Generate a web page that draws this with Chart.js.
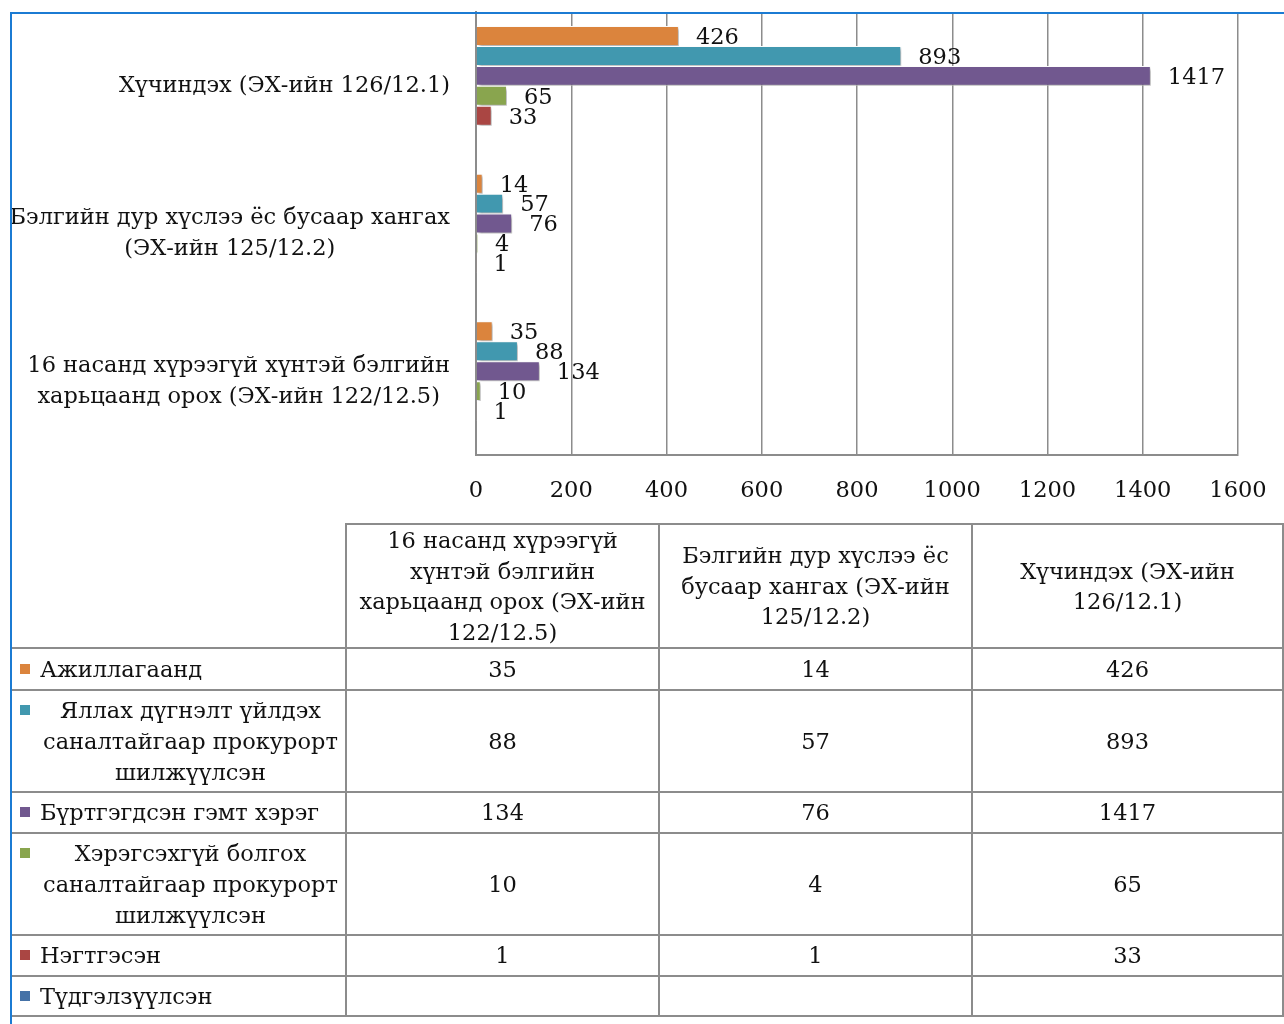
<!DOCTYPE html>
<html>
<head>
<meta charset="utf-8">
<script src="https://cdn.jsdelivr.net/npm/chart.js@4"></script>
<style>
  body { margin: 0; background: #fff; font-family: "DejaVu Serif", serif; color: #111; }
  #wrap { position: relative; width: 1284px; height: 1024px; overflow: hidden; }
  #chart { position: absolute; left: 0; top: 0; }
  #frame { position: absolute; left: 10px; top: 12px; width: 1300px; height: 1100px;
           border-left: 2px solid #1b7bd3; border-top: 2px solid #1b7bd3; }
  table { position: absolute; left: 10px; top: 523px; width: 1272px; table-layout: fixed;
          border-collapse: collapse; font-size: 22.5px; }
  td { border: 2px solid #8c8c8c; text-align: center; line-height: 31px; padding: 0 6px; }
  tr.head td { line-height: 30.5px; }
  td.corner { border-top: none; border-left: none; }
  td.name { text-align: left; padding: 0 4px 0 8px; }
  .nm { display: flex; align-items: flex-start; }
  .key { flex: none; width: 10px; height: 10px; margin: 10px 10px 0 0; }
  .lbl { text-align: center; }
</style>
</head>
<body>
<div id="wrap">
  <canvas id="chart" width="1284" height="540"></canvas>
  <table id="tbl"></table>
  <div id="frame"></div>
</div>
<script>
const categories = [
  ['16 насанд хүрээгүй хүнтэй бэлгийн', 'харьцаанд орох (ЭХ-ийн 122/12.5)'],
  ['Бэлгийн дур хүслээ ёс бусаар хангах', '(ЭХ-ийн 125/12.2)'],
  ['Хүчиндэх (ЭХ-ийн 126/12.1)']
];
const seriesNames = [
  'Ажиллагаанд',
  'Яллах дүгнэлт үйлдэх саналтайгаар прокурорт шилжүүлсэн',
  'Бүртгэгдсэн гэмт хэрэг',
  'Хэрэгсэхгүй болгох саналтайгаар прокурорт шилжүүлсэн',
  'Нэгтгэсэн',
  'Түдгэлзүүлсэн'
];
const seriesColors = ['#db843d', '#4198af', '#71588f', '#89a54e', '#aa4643', '#4572a7'];
const ajillagaand = [35, 14, 426];
const yallahDugnelt = [88, 57, 893];
const burtgegdsen = [134, 76, 1417];
const hergsehgui = [10, 4, 65];
const negtgesen = [1, 1, 33];
const tudgelzuulsen = [null, null, null];
const seriesValues = [ajillagaand, yallahDugnelt, burtgegdsen, hergsehgui, negtgesen, tudgelzuulsen];
const xMax = 1600, xStep = 200;
const rowHeights = [42, 102, 41, 102, 41, 40];

const FONT = '"DejaVu Serif"';
const FSIZE = 22.5;

// bar shadow like the office chart
const barShadow = {
  id: 'barShadow',
  beforeDatasetsDraw(chart) {
    const ctx = chart.ctx;
    ctx.save();
    ctx.shadowColor = 'rgba(0,0,0,0.35)';
    ctx.shadowOffsetX = 2;
    ctx.shadowOffsetY = 2;
    ctx.shadowBlur = 3;
  },
  afterDatasetsDraw(chart) {
    chart.ctx.restore();
  }
};

const valueLabels = {
  id: 'valueLabels',
  afterDatasetsDraw(chart) {
    const ctx = chart.ctx;
    ctx.save();
    ctx.font = FSIZE + 'px ' + FONT;
    ctx.fillStyle = '#111';
    ctx.textAlign = 'left';
    ctx.textBaseline = 'middle';
    chart.data.datasets.forEach((ds, di) => {
      chart.getDatasetMeta(di).data.forEach((bar, i) => {
        const v = ds.data[i];
        if (v == null) return;
        ctx.fillText(String(v), bar.x + 17, bar.y + 2);
      });
    });
    ctx.restore();
  }
};

// category labels: block right aligned, lines centred inside it
const catLabels = {
  id: 'catLabels',
  afterDraw(chart) {
    const { ctx, chartArea } = chart;
    const y = chart.scales.y;
    ctx.save();
    ctx.font = FSIZE + 'px ' + FONT;
    ctx.fillStyle = '#111';
    ctx.textAlign = 'center';
    ctx.textBaseline = 'middle';
    chart.data.labels.forEach((lines, i) => {
      const w = Math.max(...lines.map(l => ctx.measureText(l).width));
      const cx = chartArea.left - 26 - w / 2;
      const cy = y.getPixelForValue(i);
      lines.forEach((l, k) => ctx.fillText(l, cx, cy + (k - (lines.length - 1) / 2) * 31));
    });
    ctx.restore();
  }
};

new Chart(document.getElementById('chart').getContext('2d'), {
  type: 'bar',
  data: {
    labels: categories.slice().reverse(),
    datasets: seriesNames.map((name, i) => ({
      label: name,
      data: seriesValues[i].slice().reverse(),
      backgroundColor: seriesColors[i],
      borderColor: '#ffffff',
      borderWidth: 1,
      categoryPercentage: 0.81,
      barPercentage: 1.0
    }))
  },
  options: {
    indexAxis: 'y',
    responsive: false,
    animation: false,
    layout: { padding: { left: 476, right: 46, top: 12, bottom: 12 } },
    plugins: { legend: { display: false }, tooltip: { enabled: false } },
    scales: {
      x: {
        min: 0, max: xMax,
        ticks: { stepSize: xStep, color: '#111', padding: 23, font: { family: 'DejaVu Serif', size: FSIZE },
                 callback: v => String(v) },
        grid: { color: '#8c8c8c', lineWidth: 1.5, drawTicks: false },
        border: { display: true, color: '#8c8c8c', width: 2 },
        afterFit(scale) { scale.paddingRight = 0; scale.paddingLeft = 0; }
      },
      y: {
        ticks: { display: false },
        grid: { display: false, drawTicks: false },
        border: { display: true, color: '#8c8c8c', width: 2 }
      }
    }
  },
  plugins: [barShadow, valueLabels, catLabels]
});

// data table under the chart
const tbl = document.getElementById('tbl');
let html = '<colgroup><col style="width:335px"><col style="width:313px"><col style="width:313px"><col style="width:311px"></colgroup>';
html += '<tr class="head" style="height:123px"><td class="corner"></td>' +
  categories.map(c => '<td>' + c.join(' ') + '</td>').join('') + '</tr>';
seriesNames.forEach((name, i) => {
  html += '<tr style="height:' + rowHeights[i] + 'px"><td class="name"><div class="nm"><span class="key" style="background:' +
    seriesColors[i] + '"></span><div class="lbl">' + name + '</div></div></td>' +
    seriesValues[i].map(v => '<td>' + (v == null ? '' : v) + '</td>').join('') + '</tr>';
});
tbl.innerHTML = html;
</script>
</body>
</html>
